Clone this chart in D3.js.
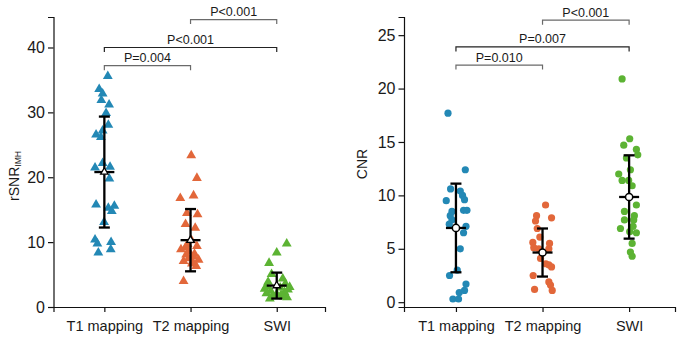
<!DOCTYPE html>
<html lang="en">
<head>
<meta charset="utf-8">
<title>rSNR and CNR by sequence</title>
<script src="https://cdn.jsdelivr.net/npm/d3@7"></script>
<style>
  body { margin: 0; background: #fff; }
  svg { font-family: "Liberation Sans", Arial, sans-serif; }
</style>
</head>
<body>
<script>
// categories + colours
var cats = ["T1 mapping", "T2 mapping", "SWI"];
var colors = ["#2388b5", "#e2673a", "#5cb333"];

// rSNR (IMH) values, with jitter in category-step units
var rsnrT1 = [35.5, 33.5, 32.8, 31.8, 31.1, 29.8, 28.0, 26.5, 27.1, 26.1, 21.4, 22.1, 21.5, 19.7, 15.7, 15.2, 15.5, 14.7, 13.0, 10.3, 9.7, 9.9, 8.3, 8.8];
var rsnrT1Jit = [0.04, -0.06, -0.02, -0.035, 0.055, 0.02, 0.046, -0.096, -0.02, -0.04, -0.108, -0.02, 0.066, 0.058, -0.096, 0.046, 0.116, 0.086, -0.003, -0.108, -0.081, 0.078, -0.07, 0.074];
var rsnrT2 = [23.3, 19.8, 16.7, 17.1, 14.4, 14.2, 12.7, 12.1, 8.8, 9.6, 9.3, 8.0, 7.7, 7.2, 7.0, 6.6, 6.2, 8.5, 3.9, 6.9, 7.4, 8.1, 9.1, 10.2];
var rsnrT2Jit = [0.008, 0.074, -0.119, 0.035, -0.042, 0.081, -0.058, 0.054, -0.111, -0.035, 0.074, -0.05, 0.035, 0.093, -0.081, 0.016, 0.066, -0.019, -0.081, 0.023, -0.023, 0.046, -0.058, 0.012];
var rsnrSWI = [9.7, 8.3, 6.7, 5.0, 4.3, 3.8, 3.5, 3.1, 2.9, 2.6, 2.4, 2.2, 2.0, 1.8, 1.6, 1.4, 1.2, 3.0, 2.7, 1.9, 1.5];
var rsnrSWIJit = [0.116, 0.0, -0.089, -0.06, 0.07, -0.1, 0.1, -0.12, 0.04, 0.13, -0.07, 0.09, -0.12, 0.05, -0.05, 0.12, -0.08, 0.15, -0.14, 0.0, 0.08];
var rsnrMean = [20.8, 10.3, 3.3];
var rsnrSD = [8.55, 4.8, 2.0];

// CNR values
var cnrT1 = [17.7, 12.4, 10.6, 10.4, 10.0, 9.6, 9.5, 8.5, 8.6, 8.6, 8.1, 7.7, 7.3, 7.1, 6.5, 5.0, 3.0, 2.5, 1.7, 1.1, 0.9, 0.3, 0.3];
var cnrT1Jit = [-0.092, 0.108, -0.062, 0.05, 0.076, 0.099, -0.112, -0.046, 0.088, 0.127, -0.066, -0.046, -0.077, 0.116, 0.088, 0.05, 0.015, -0.074, 0.116, 0.099, 0.038, -0.035, 0.03];
var cnrT2 = [9.1, 8.1, 7.9, 7.6, 6.9, 6.1, 5.6, 5.5, 5.1, 5.0, 5.0, 4.1, 3.5, 3.3, 3.6, 2.5, 1.9, 1.6, 1.2, 1.1];
var cnrT2Jit = [0.035, -0.069, 0.104, -0.081, -0.061, -0.031, -0.112, 0.081, -0.101, -0.043, 0.073, -0.023, 0.073, 0.104, 0.038, -0.108, 0.073, 0.092, -0.092, 0.112];
var cnrSWI = [20.9, 15.3, 14.7, 14.3, 13.8, 13.5, 12.4, 12.0, 11.4, 11.4, 10.9, 9.1, 8.5, 8.1, 7.7, 7.7, 6.9, 7.1, 6.6, 6.5, 5.5, 4.7, 4.3];
var cnrSWIJit = [-0.081, 0.007, -0.062, 0.084, 0.1, -0.031, 0.015, -0.12, -0.081, -0.005, 0.035, 0.084, -0.054, 0.061, -0.054, 0.053, -0.1, 0.046, 0.007, 0.084, 0.035, 0.015, 0.035];
var cnrMean = [6.95, 4.65, 9.85];
var cnrSD = [4.15, 2.25, 3.9];

// significance brackets: [from, to, label, level in data units]
var rsnrBrackets = [[0, 1, "P=0.004", 37.2], [0, 2, "P<0.001", 40.0], [1, 2, "P<0.001", 44.3]];
var cnrBrackets = [[0, 1, "P=0.010", 22.2], [0, 2, "P=0.007", 23.9], [1, 2, "P<0.001", 26.4]];

var rsnrTicks = [0, 10, 20, 30, 40];
var cnrTicks = [0, 5, 10, 15, 20, 25];

var width = 681, height = 338;
var svg = d3.select("body").append("svg").attr("width", width).attr("height", height);

var top_y = 17, bottom_y = 307;

function drawPanel(p) {
  var g = svg.append("g");
  var x = d3.scaleLinear().domain(p.xDomain).range([p.x0, p.x1]);
  var y = d3.scaleLinear().domain(p.yDomain).range([bottom_y, top_y]);

  // axes
  var xAxis = g.append("g")
    .attr("transform", "translate(0," + bottom_y + ")")
    .call(d3.axisBottom(x).tickValues([0, 1, 2]).tickFormat(function (i) { return cats[i]; })
      .tickSizeOuter(0).tickSize(5).tickPadding(8.7));
  var yAxis = g.append("g")
    .attr("transform", "translate(" + p.x0 + ",0)")
    .call(d3.axisLeft(y).tickValues(p.ticks).tickSizeOuter(0).tickSize(5.5).tickPadding(3));
  [xAxis, yAxis].forEach(function (a) {
    a.attr("font-family", null).attr("font-size", null);
    a.selectAll("path, line").attr("stroke", "#111").attr("stroke-width", 1.2);
    a.selectAll("text").attr("fill", "#1a1a1a").style("font-size", "14.5px");
  });
  yAxis.selectAll("text").style("font-size", "16px");

  // points
  p.series.forEach(function (s, i) {
    var pts = s.values.map(function (v, k) { return { v: v, j: s.jit[k] }; });
    if (p.shape === "triangle") {
      g.append("g").selectAll("path").data(pts).enter().append("path")
        .attr("d", d3.symbol().type(d3.symbolTriangle).size(42))
        .attr("transform", function (d) { return "translate(" + x(i + d.j) + "," + (y(d.v) - 0.5) + ")"; })
        .attr("fill", colors[i]);
    } else {
      g.append("g").selectAll("circle").data(pts).enter().append("circle")
        .attr("cx", function (d) { return x(i + d.j); })
        .attr("cy", function (d) { return y(d.v); })
        .attr("r", 3.6)
        .attr("fill", colors[i]);
    }
  });

  // mean +/- SD
  var eb = g.append("g").attr("stroke", "#000").attr("stroke-width", 2.3).attr("fill", "none");
  p.mean.forEach(function (m, i) {
    var cx = x(i), hi = y(m + p.sd[i]), lo = y(m - p.sd[i]);
    eb.append("line").attr("x1", cx).attr("x2", cx).attr("y1", hi).attr("y2", lo);
    eb.append("line").attr("x1", cx - 5.5).attr("x2", cx + 5.5).attr("y1", hi).attr("y2", hi);
    eb.append("line").attr("x1", cx - 5.5).attr("x2", cx + 5.5).attr("y1", lo).attr("y2", lo);
    eb.append("line").attr("x1", cx - 10).attr("x2", cx + 10).attr("y1", y(m)).attr("y2", y(m));
    if (p.shape === "triangle") {
      g.append("path").attr("d", d3.symbol().type(d3.symbolTriangle).size(24))
        .attr("transform", "translate(" + cx + "," + y(m) + ")")
        .attr("fill", "#fff").attr("stroke", "#000").attr("stroke-width", 1.3);
    } else {
      g.append("circle").attr("cx", cx).attr("cy", y(m)).attr("r", 3.6)
        .attr("fill", "#fff").attr("stroke", "#000").attr("stroke-width", 1.5);
    }
  });

  // brackets
  p.brackets.forEach(function (b) {
    var xa = x(b[0]), xb = x(b[1]), yy = y(b[3]);
    var col = (b[1] - b[0] === 2) ? "#222" : "#6a6a6a";
    g.append("path")
      .attr("d", "M" + xa + "," + (yy + 4.5) + "V" + yy + "H" + xb + "V" + (yy + 4.5))
      .attr("fill", "none").attr("stroke", col).attr("stroke-width", 1.2);
    g.append("text")
      .attr("x", (xa + xb) / 2).attr("y", yy - 3.5)
      .attr("text-anchor", "middle")
      .style("font-size", "12.5px").attr("fill", "#1a1a1a")
      .text(b[2]);
  });
  return g;
}

drawPanel({
  x0: 53.5, x1: 325, xDomain: [-0.59, 2.56], yDomain: [0, 44.7], ticks: rsnrTicks,
  shape: "triangle",
  series: [{ values: rsnrT1, jit: rsnrT1Jit }, { values: rsnrT2, jit: rsnrT2Jit }, { values: rsnrSWI, jit: rsnrSWIJit }],
  mean: rsnrMean, sd: rsnrSD, brackets: rsnrBrackets
});

drawPanel({
  x0: 404, x1: 675, xDomain: [-0.6, 2.53], yDomain: [-0.45, 26.7], ticks: cnrTicks,
  shape: "circle",
  series: [{ values: cnrT1, jit: cnrT1Jit }, { values: cnrT2, jit: cnrT2Jit }, { values: cnrSWI, jit: cnrSWIJit }],
  mean: cnrMean, sd: cnrSD, brackets: cnrBrackets
});

// y labels
var yl = svg.append("text")
  .attr("transform", "translate(18.5,176) rotate(-90)")
  .attr("text-anchor", "middle")
  .style("font-size", "14px").attr("fill", "#1a1a1a");
yl.append("tspan").text("rSNR");
yl.append("tspan").attr("dy", "0.25em").style("font-size", "8.5px").text("IMH");

svg.append("text")
  .attr("transform", "translate(367,164) rotate(-90)")
  .attr("text-anchor", "middle")
  .style("font-size", "14px").attr("fill", "#1a1a1a")
  .text("CNR");
</script>
</body>
</html>
